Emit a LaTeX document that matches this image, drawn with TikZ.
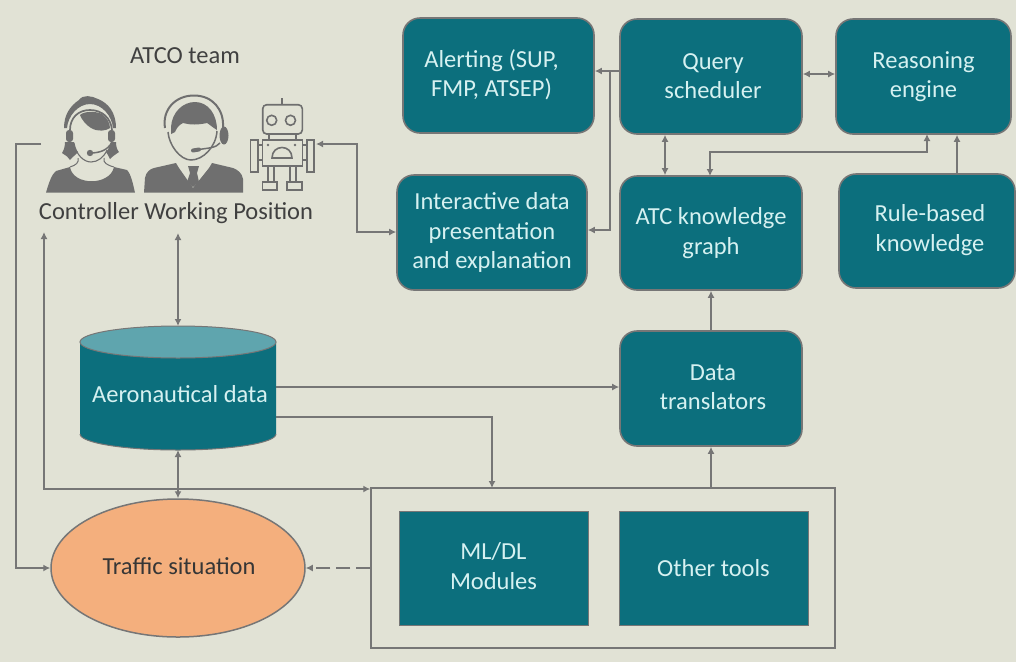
\documentclass[tikz,border=0pt]{standalone}
\usepackage{fontspec}
\setmainfont{Carlito}
\usetikzlibrary{arrows.meta,shapes.geometric}
\definecolor{bgc}{HTML}{E1E2D5}
\definecolor{teal1}{HTML}{0C6F7D}
\definecolor{edge1}{HTML}{767676}
\definecolor{lite}{HTML}{D6F1F1}
\definecolor{orange1}{HTML}{F4AF7D}
\definecolor{captop}{HTML}{5FA5AE}
\definecolor{ink}{HTML}{404040}
\definecolor{icon}{HTML}{6F6F6F}
\newcommand{\shiftedtext}[3]{\leavevmode\kern#1pt\raisebox{#2pt}[0pt][0pt]{\begin{tabular}{@{}c@{}}#3\end{tabular}}\kern-#1pt}
\tikzset{
  x=1pt,y=-1pt,
  tbox/.style={draw=edge1,line width=1.6pt,fill=teal1,rounded corners=17pt,text=lite,align=center,font=\fontsize{24.5}{29.5}\selectfont,inner sep=0pt},
  sbox/.style={draw=edge1,line width=1pt,fill=teal1,text=lite,align=center,font=\fontsize{24.5}{30}\selectfont,inner sep=0pt},
  lab/.style={text=ink,font=\fontsize{24.5}{28}\selectfont,inner sep=0pt},
  conn/.style={draw=edge1,line width=1.5pt,-{Latex[length=7pt,width=7pt]}},
  conn2/.style={draw=edge1,line width=1.5pt,{Latex[length=7pt,width=7pt]}-{Latex[length=7pt,width=7pt]}},
  iconline/.style={draw=icon,line width=1.6pt,fill=none},
  iconfill/.style={fill=icon,draw=none},
}
\begin{document}
\begin{tikzpicture}
\useasboundingbox (0,0) rectangle (1016,662);
\fill[bgc] (0,0) rectangle (1016,662);

% boxes
\node[tbox,minimum width=191pt,minimum height=115pt] (alert) at (498.5,75.5) {\shiftedtext{-7}{-7}{Alerting (SUP,\\FMP, ATSEP)}};
\node[tbox,minimum width=182pt,minimum height=115pt] (query) at (711,76.5) {\shiftedtext{2}{-8}{Query\\scheduler}};
\node[tbox,minimum width=175pt,minimum height=115pt] (reason) at (923.5,76.5) {Reasoning\\engine};
\node[tbox,minimum width=190pt,minimum height=115pt] (inter) at (492,232.5) {Interactive data\\presentation\\and explanation};
\node[tbox,minimum width=182pt,minimum height=114pt] (atc) at (711,233) {ATC knowledge\\graph};
\node[tbox,minimum width=176pt,minimum height=114pt] (rule) at (927,231) {\shiftedtext{3}{-6}{Rule-based\\knowledge}};
\node[tbox,minimum width=182pt,minimum height=115pt] (trans) at (711,388.5) {\shiftedtext{2}{-7}{Data\\translators}};

% big frame
\node[draw=edge1,line width=1.5pt,minimum width=464pt,minimum height=160pt,inner sep=0pt] (frame) at (603,568) {};
\node[sbox,minimum width=189pt,minimum height=114pt] (ml) at (493.5,568) {\raisebox{6pt}{\begin{tabular}{@{}c@{}}ML/DL\\Modules\end{tabular}}};
\node[sbox,minimum width=189pt,minimum height=114pt] (other) at (713.5,568) {Other tools};

% cylinder
\fill[teal1] (80,342) -- (80,434) arc[start angle=180,end angle=360,x radius=98pt,y radius=16pt] -- (276,342) -- cycle;
\draw[edge1,line width=1pt] (80,434) arc[start angle=180,end angle=360,x radius=98pt,y radius=16pt];
\draw[edge1,line width=1pt,fill=captop] (178,342) ellipse[x radius=98pt,y radius=16pt];
\coordinate (cylT) at (178,326);
\coordinate (cylB) at (178,450);
\coordinate (cylR1) at (276,387);
\coordinate (cylR2) at (276,417);
\node[text=lite,font=\fontsize{24.5}{28}\selectfont,inner sep=0pt] (aero) at (180,394) {Aeronautical data};

% ellipse
\node[ellipse,draw=edge1,line width=1.5pt,fill=orange1,minimum width=254pt,minimum height=138pt,inner sep=0pt,text=ink!85!black,font=\fontsize{24.5}{28}\selectfont] (traffic) at (178,568) {\raisebox{4pt}{\kern2pt Traffic situation}};

% labels
\node[lab] (team) at (185,56) {ATCO team};
\node[lab] (cwp) at (176,213) {Controller Working Position};

% woman
\begin{scope}
% body
\path[iconfill] (46,192.7) .. controls (49,182) and (52,174) .. (56,171) -- (70,167) .. controls (73,186) and (110,186) .. (114,167) -- (127,170) .. controls (131,174) and (133,184) .. (135,192.7) -- cycle;
% neck lines
\draw[draw=icon,line width=1pt] (78,158) .. controls (79,163) and (76,165) .. (70,167);
\draw[draw=icon,line width=1pt] (104,158) .. controls (103,163) and (107,165) .. (114,167);
% hair outer crescent and flips
\path[iconfill] (79,100) .. controls (83,94) and (92,96) .. (98,99) .. controls (108,103) and (116,112) .. (116,128) -- (113,128) .. controls (112,116) and (102,104) .. (90,104) .. controls (78,104) and (68,116) .. (67,128) -- (64,128) .. controls (64,115) and (70,106) .. (79,100) -- cycle;
\path[iconfill] (65,142) -- (74,142) .. controls (74,146) and (76,150) .. (78,152) .. controls (76,155) and (73,156) .. (70,160) .. controls (69,157) and (66,156) .. (62,153) .. controls (64,150) and (65,146) .. (65,142) -- cycle;
\path[iconfill] (106,152) .. controls (108,150) and (110,146) .. (111,142) -- (116,142) .. controls (116,146) and (117,150) .. (119,152) .. controls (116,154) and (113,156) .. (110,159) .. controls (109,156) and (107,154) .. (106,152) -- cycle;
% headband
\draw[draw=icon,line width=1.7pt] (70,130) .. controls (70,118) and (78,110) .. (90,110) .. controls (102,110) and (111,118) .. (112,130);
% bangs
\path[iconfill] (80,115) .. controls (84,111) and (96,111) .. (102,114) .. controls (107,118) and (110,123) .. (110,128) .. controls (106,131) and (98,132) .. (91,128) .. controls (86,125) and (82,120) .. (80,115) -- cycle;
% earcups
\fill[icon,rounded corners=3pt] (66,130) rectangle (73,142);
\fill[icon,rounded corners=3pt] (108,130) rectangle (115,142);
% face
\draw[draw=icon,line width=1.1pt] (74,143) .. controls (76,155) and (84,162) .. (91,162) .. controls (98,162) and (104,157) .. (107,150);
% mic
\draw[draw=icon,line width=1.5pt] (90,153) .. controls (100,153) and (108,150) .. (112,142);
\fill[icon] (90,153) circle (3.2pt);
\end{scope}

% man
\begin{scope}
\path[iconfill] (144,192.7) -- (145,178) .. controls (146,172) and (150,169) .. (154,168) -- (176,163) -- (179,168) -- (193,188) -- (209,168) -- (212,163) -- (233,168) .. controls (238,170) and (242,173) .. (243,179) -- (243,192.7) -- cycle;
\fill[bgc] (178,163) -- (193,185) -- (210,163) -- (208,160) -- (180,160) -- cycle;
\path[iconfill] (188,166) -- (199,166) -- (197,173) -- (199,182) -- (193,187) -- (187,182) -- (190,173) -- cycle;
\draw[draw=icon,line width=1.5pt,fill=none] (168,132) .. controls (169,145) and (180,160) .. (191,160) .. controls (203,160) and (216,147) .. (217,131);
\path[iconfill] (171,127) .. controls (172,112) and (183,102) .. (195,102) .. controls (208,102) and (217,114) .. (217,130) .. controls (212,127) and (209,124) .. (207,123) .. controls (198,125) and (190,125) .. (183,123) .. controls (178,125) and (176,130) .. (175,132) -- (171,134) -- cycle;
\draw[draw=icon,line width=2pt] (165,128) .. controls (162,110) and (175,95.5) .. (194,95.5) .. controls (213,95.5) and (224,110) .. (223,127);
\fill[icon] (224,135.5) ellipse[x radius=4.5pt,y radius=9pt];
\draw[draw=icon,line width=1.5pt] (220,143) .. controls (216,148) and (208,148) .. (199,149.5);
\draw[draw=icon,line width=4pt,line cap=round] (193,150.5) -- (199,149.5);
\end{scope}

% robot
\begin{scope}
\draw[iconline,rounded corners=4pt] (262.7,134) -- (262.7,104.7) -- (302.3,104.7) -- (302.3,134) -- cycle;
\draw[iconline] (281.7,98) -- (281.7,104.7);
\draw[iconline] (271.7,120.3) circle (5pt);
\draw[iconline] (290.5,120.3) circle (5pt);
\draw[iconline] (269,134) rectangle (296,140);
\draw[iconline] (262.5,140) rectangle (302.5,166);
\draw[iconline] (250.5,140) rectangle (257.7,172);
\draw[iconline] (307,140) rectangle (314,172);
\draw[iconline] (257.7,145) -- (262.5,145) (257.7,160) -- (262.5,160) (302.5,145) -- (307,145) (302.5,160) -- (307,160);
\draw[iconline] (272,158) .. controls (272,144) and (292,144) .. (292,158) -- cycle;
\fill[icon] (268,145) circle (1.3pt) (295,145) circle (1.3pt);
\draw[iconline] (268,166) -- (268,182) (274,166) -- (274,182) (290,166) -- (290,182) (296,166) -- (296,182);
\draw[iconline] (262.5,182) rectangle (277,190);
\draw[iconline] (287,182) rectangle (302,190);
\end{scope}

% anchor coordinates for free ends
\coordinate (robotR) at (316,144);
\coordinate (womanL) at (41,144);
\coordinate (cwpA) at (44,232);
\coordinate (cwpB) at (178,233);

% connectors
\draw[conn] (query.west |- 0,71) -- (alert.east |- 0,71);
\draw[conn] (query.west |- 0,71) -- (610,71) -- (610,230) -- (inter.east |- 0,230);
\draw[conn2] (query.east |- 0,74) -- (reason.west |- 0,74);
\draw[conn2] (query.south -| 665,0) -- (atc.north -| 665,0);
\draw[conn2] (927,134) -- (927,152) -- (710,152) -- (710,176);
\draw[conn] (rule.north -| 957,0) -- (reason.south -| 957,0);
\draw[conn] (trans.north) -- (atc.south);
\draw[conn] (frame.north -| trans) -- (trans.south);
\draw[conn] (cylR1) -- (trans.west |- cylR1);
\draw[conn] (cylR2) -- (492,417) -- (492,488);
\draw[conn2] (cwpB) -- (cylT);
\draw[conn2] (cylB) -- (traffic.north);
\draw[conn2] (cwpA) -- (44,489) -- (frame.west |- 0,489);
\draw[conn] (womanL) -- (16,144) -- (16,568) -- (traffic.west);
\draw[conn,dash pattern=on 14pt off 6pt] (frame.west |- traffic) -- (traffic.east);
\draw[conn2] (robotR) -- (357,144) -- (357,232) -- (inter.west |- 0,232);
\end{tikzpicture}
\end{document}
